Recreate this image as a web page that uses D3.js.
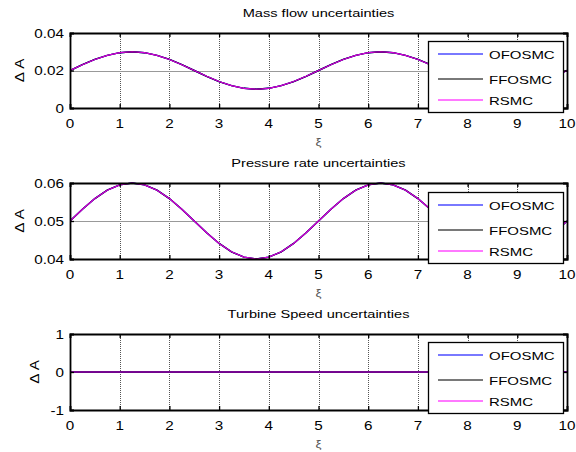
<!DOCTYPE html>
<html>
<head>
<meta charset="utf-8">
<script src="https://cdn.jsdelivr.net/npm/d3@7"></script>
<style>
  html, body { margin: 0; padding: 0; background: #fff; }
  svg { display: block; }
  text { font-family: "Liberation Sans", Arial, sans-serif; fill: #000; }
</style>
</head>
<body>
<svg id="chart" width="576" height="452"></svg>
<script>
// ---------------- data ----------------
const xSamples = [0, 0.25, 0.5, 0.75, 1, 1.25, 1.5, 1.75, 2, 2.25, 2.5, 2.75, 3, 3.25, 3.5, 3.75, 4, 4.25, 4.5, 4.75,
  5, 5.25, 5.5, 5.75, 6, 6.25, 6.5, 6.75, 7, 7.25, 7.5, 7.75, 8, 8.25, 8.5, 8.75, 9, 9.25, 9.5, 9.75, 10];

const massFlowValues = [0.0200, 0.0231, 0.0259, 0.0281, 0.0295, 0.0300, 0.0295, 0.0281, 0.0259, 0.0231,
  0.0200, 0.0169, 0.0141, 0.0119, 0.0105, 0.0100, 0.0105, 0.0119, 0.0141, 0.0169,
  0.0200, 0.0231, 0.0259, 0.0281, 0.0295, 0.0300, 0.0295, 0.0281, 0.0259, 0.0231,
  0.0200, 0.0169, 0.0141, 0.0119, 0.0105, 0.0100, 0.0105, 0.0119, 0.0141, 0.0169, 0.0200];

const pressureRateValues = [0.0500, 0.0531, 0.0559, 0.0581, 0.0595, 0.0600, 0.0595, 0.0581, 0.0559, 0.0531,
  0.0500, 0.0469, 0.0441, 0.0419, 0.0405, 0.0400, 0.0405, 0.0419, 0.0441, 0.0469,
  0.0500, 0.0531, 0.0559, 0.0581, 0.0595, 0.0600, 0.0595, 0.0581, 0.0559, 0.0531,
  0.0500, 0.0469, 0.0441, 0.0419, 0.0405, 0.0400, 0.0405, 0.0419, 0.0441, 0.0469, 0.0500];

const turbineSpeedValues = [0, 0, 0, 0, 0, 0, 0, 0, 0, 0, 0, 0, 0, 0, 0, 0, 0, 0, 0, 0,
  0, 0, 0, 0, 0, 0, 0, 0, 0, 0, 0, 0, 0, 0, 0, 0, 0, 0, 0, 0, 0];

const seriesNames = ["OFOSMC", "FFOSMC", "RSMC"];
const xTicks = [0, 1, 2, 3, 4, 5, 6, 7, 8, 9, 10];
const xTickLabels = ["0", "1", "2", "3", "4", "5", "6", "7", "8", "9", "10"];

const massFlowYTicks = [0, 0.02, 0.04];
const massFlowYTickLabels = ["0", "0.02", "0.04"];
const pressureYTicks = [0.04, 0.05, 0.06];
const pressureYTickLabels = ["0.04", "0.05", "0.06"];
const turbineYTicks = [-1, 0, 1];
const turbineYTickLabels = ["-1", "0", "1"];

const titles = ["Mass flow uncertainties", "Pressure rate uncertainties", "Turbine Speed uncertainties"];
const xLabel = "\u03BE";
const yLabel = "\u0394 A";

// ---------------- layout / style ----------------
const seriesColors = ["#0000ff", "#000000", "#ff00ff"];
const SX = 1.27;     // horizontal stretch of the source picture's text
const FS = 11.5;
const left = 70, right = 567;

const panels = [
  { title: titles[0], top: 33, bottom: 108, domain: [0, 0.04], yTicks: massFlowYTicks, yLabels: massFlowYTickLabels,
    values: [massFlowValues, massFlowValues, massFlowValues], ylabelX: 20, legendTop: 41, legendBottom: 112 },
  { title: titles[1], top: 183, bottom: 259, domain: [0.04, 0.06], yTicks: pressureYTicks, yLabels: pressureYTickLabels,
    values: [pressureRateValues, pressureRateValues, pressureRateValues], ylabelX: 20, legendTop: 192, legendBottom: 263 },
  { title: titles[2], top: 334, bottom: 410, domain: [-1, 1], yTicks: turbineYTicks, yLabels: turbineYTickLabels,
    values: [turbineSpeedValues, turbineSpeedValues, turbineSpeedValues], ylabelX: 35, legendTop: 342, legendBottom: 413 }
];

const svg = d3.select("#chart");
svg.append("rect").attr("width", 576).attr("height", 452).attr("fill", "#fff");

function stext(g, x, y, str, anchor, size, rot) {
  return g.append("text")
    .attr("transform", `translate(${x},${y})` + (rot ? ` rotate(${rot})` : "") + ` scale(${SX},1)`)
    .attr("text-anchor", anchor || "middle")
    .style("font-size", (size || FS) + "px")
    .text(str);
}

const x = d3.scaleLinear().domain([0, 10]).range([left, right]);

panels.forEach((p, pi) => {
  const g = svg.append("g");
  const y = d3.scaleLinear().domain(p.domain).range([p.bottom, p.top]);
  const clipId = "clip" + pi;
  svg.append("clipPath").attr("id", clipId).append("rect")
    .attr("x", left).attr("y", p.top - 1).attr("width", right - left).attr("height", p.bottom - p.top + 2);

  // grid
  const grid = g.append("g");
  xTicks.slice(1, -1).forEach(v => {
    grid.append("line").attr("x1", Math.round(x(v)) + 0.5).attr("x2", Math.round(x(v)) + 0.5)
      .attr("y1", p.top).attr("y2", p.bottom)
      .attr("stroke", "#555").attr("stroke-width", 1).attr("stroke-dasharray", "1,1");
  });
  p.yTicks.slice(1, -1).forEach(v => {
    grid.append("line").attr("x1", left).attr("x2", right)
      .attr("y1", Math.round(y(v)) + 0.5).attr("y2", Math.round(y(v)) + 0.5)
      .attr("stroke", "#999").attr("stroke-width", 1);
  });

  // lines
  const line = d3.line().x((d, i) => x(xSamples[i])).y(d => y(d));
  p.values.forEach((vals, si) => {
    g.append("path").datum(vals).attr("d", line)
      .attr("clip-path", `url(#${clipId})`)
      .attr("fill", "none").attr("stroke", seriesColors[si]).attr("stroke-width", si === 2 ? 1.2 : 1.4)
      .attr("stroke-opacity", si === 2 ? 0.85 : 1);
  });

  // axes (box with inward ticks)
  const axB = d3.axisBottom(x).tickValues(xTicks).tickSize(-4).tickFormat("");
  const axT = d3.axisTop(x).tickValues(xTicks).tickSize(-4).tickFormat("");
  const axL = d3.axisLeft(y).tickValues(p.yTicks).tickSize(-4).tickFormat("");
  const axR = d3.axisRight(y).tickValues(p.yTicks).tickSize(-4).tickFormat("");
  [[axB, `translate(0,${p.bottom})`], [axT, `translate(0,${p.top})`], [axL, `translate(${left},0)`], [axR, `translate(${right},0)`]]
    .forEach(([ax, tr]) => {
      const a = g.append("g").attr("transform", tr).call(ax);
      a.select(".domain").attr("stroke", "#000").attr("stroke-width", 1.8);
      a.selectAll(".tick line").attr("stroke", "#000").attr("stroke-width", 1.3);
    });

  // tick labels
  xTicks.forEach((v, i) => stext(g, x(v), p.bottom + 20, xTickLabels[i], "middle", 12));
  p.yTicks.forEach((v, i) => stext(g, left - 6, y(v) + 4.5, p.yLabels[i], "end", 12));

  // title, labels
  stext(g, (left + right) / 2, p.top - 16, p.title, "middle");
  stext(g, (left + right) / 2, p.bottom + 38, xLabel, "middle", 10.5).style("fill", "#555");
  stext(g, p.ylabelX + 4, (p.top + p.bottom) / 2, yLabel, "middle", 12, -90);

  // legend
  const lg = svg.append("g");
  lg.append("rect").attr("x", 428.5).attr("y", p.legendTop + 0.5)
    .attr("width", 135).attr("height", p.legendBottom - p.legendTop)
    .attr("fill", "#fff").attr("stroke", "#000").attr("stroke-width", 1.3);
  const rows = [13, 38, 59];
  seriesNames.forEach((name, si) => {
    const ly = p.legendTop + rows[si];
    lg.append("line").attr("x1", 438).attr("x2", 483).attr("y1", ly).attr("y2", ly)
      .attr("stroke", seriesColors[si]).attr("stroke-width", 1.5).attr("stroke-opacity", 0.7);
    stext(lg, 489, ly + 5, name, "start", 11.8);
  });
});
</script>
</body>
</html>
